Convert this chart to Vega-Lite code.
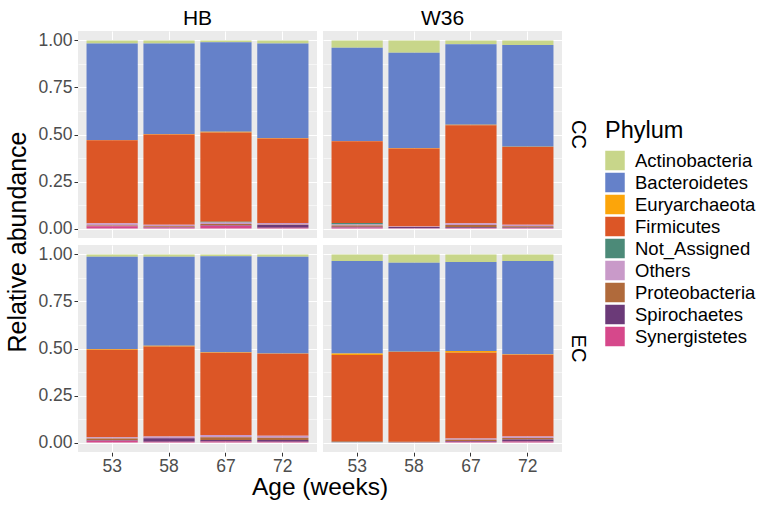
{
  "$schema": "https://vega.github.io/schema/vega-lite/v6.json",
  "padding": {"left": 5, "top": 8, "right": 0, "bottom": 0},
  "background": "white",
  "datasets": {
    "bars": [
      {"site":"HB","group":"CC","age":"53","Phylum":"Actinobacteria","abundance":0.017},
      {"site":"HB","group":"CC","age":"53","Phylum":"Bacteroidetes","abundance":0.512},
      {"site":"HB","group":"CC","age":"53","Phylum":"Euryarchaeota","abundance":0.002},
      {"site":"HB","group":"CC","age":"53","Phylum":"Firmicutes","abundance":0.44},
      {"site":"HB","group":"CC","age":"53","Phylum":"Not_Assigned","abundance":0.001},
      {"site":"HB","group":"CC","age":"53","Phylum":"Others","abundance":0.012},
      {"site":"HB","group":"CC","age":"53","Phylum":"Proteobacteria","abundance":0.002},
      {"site":"HB","group":"CC","age":"53","Phylum":"Spirochaetes","abundance":0.002},
      {"site":"HB","group":"CC","age":"53","Phylum":"Synergistetes","abundance":0.012},
      {"site":"HB","group":"CC","age":"58","Phylum":"Actinobacteria","abundance":0.017},
      {"site":"HB","group":"CC","age":"58","Phylum":"Bacteroidetes","abundance":0.48},
      {"site":"HB","group":"CC","age":"58","Phylum":"Euryarchaeota","abundance":0.003},
      {"site":"HB","group":"CC","age":"58","Phylum":"Firmicutes","abundance":0.479},
      {"site":"HB","group":"CC","age":"58","Phylum":"Others","abundance":0.009},
      {"site":"HB","group":"CC","age":"58","Phylum":"Proteobacteria","abundance":0.004},
      {"site":"HB","group":"CC","age":"58","Phylum":"Spirochaetes","abundance":0.002},
      {"site":"HB","group":"CC","age":"58","Phylum":"Synergistetes","abundance":0.006},
      {"site":"HB","group":"CC","age":"67","Phylum":"Actinobacteria","abundance":0.01},
      {"site":"HB","group":"CC","age":"67","Phylum":"Bacteroidetes","abundance":0.475},
      {"site":"HB","group":"CC","age":"67","Phylum":"Euryarchaeota","abundance":0.005},
      {"site":"HB","group":"CC","age":"67","Phylum":"Firmicutes","abundance":0.473},
      {"site":"HB","group":"CC","age":"67","Phylum":"Not_Assigned","abundance":0.005},
      {"site":"HB","group":"CC","age":"67","Phylum":"Others","abundance":0.008},
      {"site":"HB","group":"CC","age":"67","Phylum":"Proteobacteria","abundance":0.006},
      {"site":"HB","group":"CC","age":"67","Phylum":"Spirochaetes","abundance":0.003},
      {"site":"HB","group":"CC","age":"67","Phylum":"Synergistetes","abundance":0.015},
      {"site":"HB","group":"CC","age":"72","Phylum":"Actinobacteria","abundance":0.017},
      {"site":"HB","group":"CC","age":"72","Phylum":"Bacteroidetes","abundance":0.502},
      {"site":"HB","group":"CC","age":"72","Phylum":"Euryarchaeota","abundance":0.002},
      {"site":"HB","group":"CC","age":"72","Phylum":"Firmicutes","abundance":0.449},
      {"site":"HB","group":"CC","age":"72","Phylum":"Others","abundance":0.009},
      {"site":"HB","group":"CC","age":"72","Phylum":"Proteobacteria","abundance":0.002},
      {"site":"HB","group":"CC","age":"72","Phylum":"Spirochaetes","abundance":0.014},
      {"site":"HB","group":"CC","age":"72","Phylum":"Synergistetes","abundance":0.005},
      {"site":"W36","group":"CC","age":"53","Phylum":"Actinobacteria","abundance":0.039},
      {"site":"W36","group":"CC","age":"53","Phylum":"Bacteroidetes","abundance":0.495},
      {"site":"W36","group":"CC","age":"53","Phylum":"Euryarchaeota","abundance":0.002},
      {"site":"W36","group":"CC","age":"53","Phylum":"Firmicutes","abundance":0.434},
      {"site":"W36","group":"CC","age":"53","Phylum":"Not_Assigned","abundance":0.008},
      {"site":"W36","group":"CC","age":"53","Phylum":"Others","abundance":0.006},
      {"site":"W36","group":"CC","age":"53","Phylum":"Proteobacteria","abundance":0.006},
      {"site":"W36","group":"CC","age":"53","Phylum":"Spirochaetes","abundance":0.004},
      {"site":"W36","group":"CC","age":"53","Phylum":"Synergistetes","abundance":0.006},
      {"site":"W36","group":"CC","age":"58","Phylum":"Actinobacteria","abundance":0.065},
      {"site":"W36","group":"CC","age":"58","Phylum":"Bacteroidetes","abundance":0.507},
      {"site":"W36","group":"CC","age":"58","Phylum":"Euryarchaeota","abundance":0.002},
      {"site":"W36","group":"CC","age":"58","Phylum":"Firmicutes","abundance":0.415},
      {"site":"W36","group":"CC","age":"58","Phylum":"Others","abundance":0.003},
      {"site":"W36","group":"CC","age":"58","Phylum":"Spirochaetes","abundance":0.006},
      {"site":"W36","group":"CC","age":"58","Phylum":"Synergistetes","abundance":0.002},
      {"site":"W36","group":"CC","age":"67","Phylum":"Actinobacteria","abundance":0.02},
      {"site":"W36","group":"CC","age":"67","Phylum":"Bacteroidetes","abundance":0.428},
      {"site":"W36","group":"CC","age":"67","Phylum":"Euryarchaeota","abundance":0.003},
      {"site":"W36","group":"CC","age":"67","Phylum":"Firmicutes","abundance":0.521},
      {"site":"W36","group":"CC","age":"67","Phylum":"Others","abundance":0.009},
      {"site":"W36","group":"CC","age":"67","Phylum":"Proteobacteria","abundance":0.012},
      {"site":"W36","group":"CC","age":"67","Phylum":"Spirochaetes","abundance":0.004},
      {"site":"W36","group":"CC","age":"67","Phylum":"Synergistetes","abundance":0.003},
      {"site":"W36","group":"CC","age":"72","Phylum":"Actinobacteria","abundance":0.025},
      {"site":"W36","group":"CC","age":"72","Phylum":"Bacteroidetes","abundance":0.54},
      {"site":"W36","group":"CC","age":"72","Phylum":"Euryarchaeota","abundance":0.002},
      {"site":"W36","group":"CC","age":"72","Phylum":"Firmicutes","abundance":0.413},
      {"site":"W36","group":"CC","age":"72","Phylum":"Others","abundance":0.008},
      {"site":"W36","group":"CC","age":"72","Phylum":"Proteobacteria","abundance":0.006},
      {"site":"W36","group":"CC","age":"72","Phylum":"Spirochaetes","abundance":0.003},
      {"site":"W36","group":"CC","age":"72","Phylum":"Synergistetes","abundance":0.003},
      {"site":"HB","group":"EC","age":"53","Phylum":"Actinobacteria","abundance":0.012},
      {"site":"HB","group":"EC","age":"53","Phylum":"Bacteroidetes","abundance":0.491},
      {"site":"HB","group":"EC","age":"53","Phylum":"Euryarchaeota","abundance":0.003},
      {"site":"HB","group":"EC","age":"53","Phylum":"Firmicutes","abundance":0.466},
      {"site":"HB","group":"EC","age":"53","Phylum":"Others","abundance":0.006},
      {"site":"HB","group":"EC","age":"53","Phylum":"Proteobacteria","abundance":0.01},
      {"site":"HB","group":"EC","age":"53","Phylum":"Spirochaetes","abundance":0.002},
      {"site":"HB","group":"EC","age":"53","Phylum":"Synergistetes","abundance":0.01},
      {"site":"HB","group":"EC","age":"58","Phylum":"Actinobacteria","abundance":0.012},
      {"site":"HB","group":"EC","age":"58","Phylum":"Bacteroidetes","abundance":0.473},
      {"site":"HB","group":"EC","age":"58","Phylum":"Euryarchaeota","abundance":0.005},
      {"site":"HB","group":"EC","age":"58","Phylum":"Firmicutes","abundance":0.477},
      {"site":"HB","group":"EC","age":"58","Phylum":"Others","abundance":0.01},
      {"site":"HB","group":"EC","age":"58","Phylum":"Spirochaetes","abundance":0.018},
      {"site":"HB","group":"EC","age":"58","Phylum":"Synergistetes","abundance":0.005},
      {"site":"HB","group":"EC","age":"67","Phylum":"Actinobacteria","abundance":0.01},
      {"site":"HB","group":"EC","age":"67","Phylum":"Bacteroidetes","abundance":0.51},
      {"site":"HB","group":"EC","age":"67","Phylum":"Euryarchaeota","abundance":0.002},
      {"site":"HB","group":"EC","age":"67","Phylum":"Firmicutes","abundance":0.438},
      {"site":"HB","group":"EC","age":"67","Phylum":"Others","abundance":0.012},
      {"site":"HB","group":"EC","age":"67","Phylum":"Proteobacteria","abundance":0.014},
      {"site":"HB","group":"EC","age":"67","Phylum":"Spirochaetes","abundance":0.008},
      {"site":"HB","group":"EC","age":"67","Phylum":"Synergistetes","abundance":0.006},
      {"site":"HB","group":"EC","age":"72","Phylum":"Actinobacteria","abundance":0.012},
      {"site":"HB","group":"EC","age":"72","Phylum":"Bacteroidetes","abundance":0.514},
      {"site":"HB","group":"EC","age":"72","Phylum":"Euryarchaeota","abundance":0.002},
      {"site":"HB","group":"EC","age":"72","Phylum":"Firmicutes","abundance":0.436},
      {"site":"HB","group":"EC","age":"72","Phylum":"Others","abundance":0.01},
      {"site":"HB","group":"EC","age":"72","Phylum":"Proteobacteria","abundance":0.012},
      {"site":"HB","group":"EC","age":"72","Phylum":"Spirochaetes","abundance":0.01},
      {"site":"HB","group":"EC","age":"72","Phylum":"Synergistetes","abundance":0.004},
      {"site":"W36","group":"EC","age":"53","Phylum":"Actinobacteria","abundance":0.035},
      {"site":"W36","group":"EC","age":"53","Phylum":"Bacteroidetes","abundance":0.491},
      {"site":"W36","group":"EC","age":"53","Phylum":"Euryarchaeota","abundance":0.008},
      {"site":"W36","group":"EC","age":"53","Phylum":"Firmicutes","abundance":0.462},
      {"site":"W36","group":"EC","age":"53","Phylum":"Not_Assigned","abundance":0.002},
      {"site":"W36","group":"EC","age":"53","Phylum":"Others","abundance":0.002},
      {"site":"W36","group":"EC","age":"58","Phylum":"Actinobacteria","abundance":0.044},
      {"site":"W36","group":"EC","age":"58","Phylum":"Bacteroidetes","abundance":0.473},
      {"site":"W36","group":"EC","age":"58","Phylum":"Euryarchaeota","abundance":0.001},
      {"site":"W36","group":"EC","age":"58","Phylum":"Firmicutes","abundance":0.478},
      {"site":"W36","group":"EC","age":"58","Phylum":"Proteobacteria","abundance":0.002},
      {"site":"W36","group":"EC","age":"58","Phylum":"Spirochaetes","abundance":0.002},
      {"site":"W36","group":"EC","age":"67","Phylum":"Actinobacteria","abundance":0.041},
      {"site":"W36","group":"EC","age":"67","Phylum":"Bacteroidetes","abundance":0.472},
      {"site":"W36","group":"EC","age":"67","Phylum":"Euryarchaeota","abundance":0.01},
      {"site":"W36","group":"EC","age":"67","Phylum":"Firmicutes","abundance":0.455},
      {"site":"W36","group":"EC","age":"67","Phylum":"Others","abundance":0.007},
      {"site":"W36","group":"EC","age":"67","Phylum":"Proteobacteria","abundance":0.006},
      {"site":"W36","group":"EC","age":"67","Phylum":"Spirochaetes","abundance":0.004},
      {"site":"W36","group":"EC","age":"67","Phylum":"Synergistetes","abundance":0.005},
      {"site":"W36","group":"EC","age":"72","Phylum":"Actinobacteria","abundance":0.035},
      {"site":"W36","group":"EC","age":"72","Phylum":"Bacteroidetes","abundance":0.496},
      {"site":"W36","group":"EC","age":"72","Phylum":"Euryarchaeota","abundance":0.002},
      {"site":"W36","group":"EC","age":"72","Phylum":"Firmicutes","abundance":0.434},
      {"site":"W36","group":"EC","age":"72","Phylum":"Others","abundance":0.009},
      {"site":"W36","group":"EC","age":"72","Phylum":"Proteobacteria","abundance":0.008},
      {"site":"W36","group":"EC","age":"72","Phylum":"Spirochaetes","abundance":0.01},
      {"site":"W36","group":"EC","age":"72","Phylum":"Synergistetes","abundance":0.006}
    ]
  },
  "data": {"name": "bars"},
  "spacing": {"row": 7, "column": 6},
  "facet": {
    "column": {
      "field": "site", "type": "nominal",
      "title": "Age (weeks)",
      "header": {
        "labelOrient": "top", "titleOrient": "bottom",
        "labelFontSize": 21, "labelFont": "Liberation Sans", "labelColor": "#000000", "labelPadding": 2,
        "titleFontSize": 24.5, "titleFont": "Liberation Sans", "titleFontWeight": "normal", "titleColor": "#000000", "titlePadding": -9
      }
    },
    "row": {
      "field": "group", "type": "nominal",
      "title": "Relative abundance",
      "header": {
        "labelOrient": "right", "titleOrient": "left", "labelAngle": 90,
        "labelFontSize": 20, "labelFont": "Liberation Sans", "labelColor": "#000000", "labelPadding": 6,
        "titleFontSize": 25, "titleFont": "Liberation Sans", "titleFontWeight": "normal", "titleColor": "#000000", "titleAngle": -90, "titlePadding": -29
      }
    }
  },
  "spec": {
    "width": 239,
    "height": 207,
    "mark": {"type": "bar", "strokeWidth": 0},
    "encoding": {
      "x": {
        "field": "age", "type": "nominal", "sort": ["53", "58", "67", "72"],
        "scale": {"paddingInner": 0.1, "paddingOuter": 0.15},
        "axis": {
          "title": null, "labelAngle": 0, "labelFontSize": 17.5, "labelFont": "Liberation Sans", "labelColor": "#4d4d4d",
          "grid": true, "gridColor": "#ffffff", "gridWidth": 1.1, "bandPosition": 0.5,
          "domain": false, "tickColor": "#333333", "tickSize": 4, "labelPadding": 1
        }
      },
      "y": {
        "field": "abundance", "type": "quantitative",
        "scale": {"domain": [-0.05, 1.05], "nice": false, "zero": false},
        "axis": {
          "title": null,
          "values": [0, 0.125, 0.25, 0.375, 0.5, 0.625, 0.75, 0.875, 1],
          "labelExpr": "datum.value % 0.25 === 0 ? format(datum.value, '.2f') : ''",
          "labelFontSize": 17.5, "labelFont": "Liberation Sans", "labelColor": "#4d4d4d",
          "grid": true, "gridColor": "#ffffff",
          "gridWidth": {"condition": {"test": "datum.value % 0.25 === 0", "value": 1.1}, "value": 0.55},
          "tickOpacity": {"condition": {"test": "datum.value % 0.25 === 0", "value": 1}, "value": 0},
          "domain": false, "tickColor": "#333333", "tickSize": 4, "labelPadding": 2
        }
      },
      "color": {
        "field": "Phylum", "type": "nominal",
        "scale": {
          "domain": ["Actinobacteria", "Bacteroidetes", "Euryarchaeota", "Firmicutes", "Not_Assigned", "Others", "Proteobacteria", "Spirochaetes", "Synergistetes"],
          "range": ["#c8d68a", "#6581c9", "#fca50a", "#dc5626", "#4c8a78", "#c99ac9", "#b06a3b", "#6b3a78", "#d6488b"]
        },
        "legend": {
          "orient": "none", "legendX": 527, "legendY": 88,
          "title": "Phylum", "titleFontSize": 23.5, "titleFont": "Liberation Sans", "titleFontWeight": "normal", "titleColor": "#000000", "titlePadding": 8,
          "labelFontSize": 18.5, "labelFont": "Liberation Sans", "labelColor": "#000000",
          "symbolType": "square", "symbolSize": 380, "symbolStrokeWidth": 0, "symbolOpacity": 1,
          "rowPadding": 2, "labelOffset": 10
        }
      },
      "order": {"field": "Phylum", "sort": "descending"}
    }
  },
  "config": {
    "view": {"fill": "#ebebeb", "stroke": null},
    "font": "Liberation Sans"
  }
}
